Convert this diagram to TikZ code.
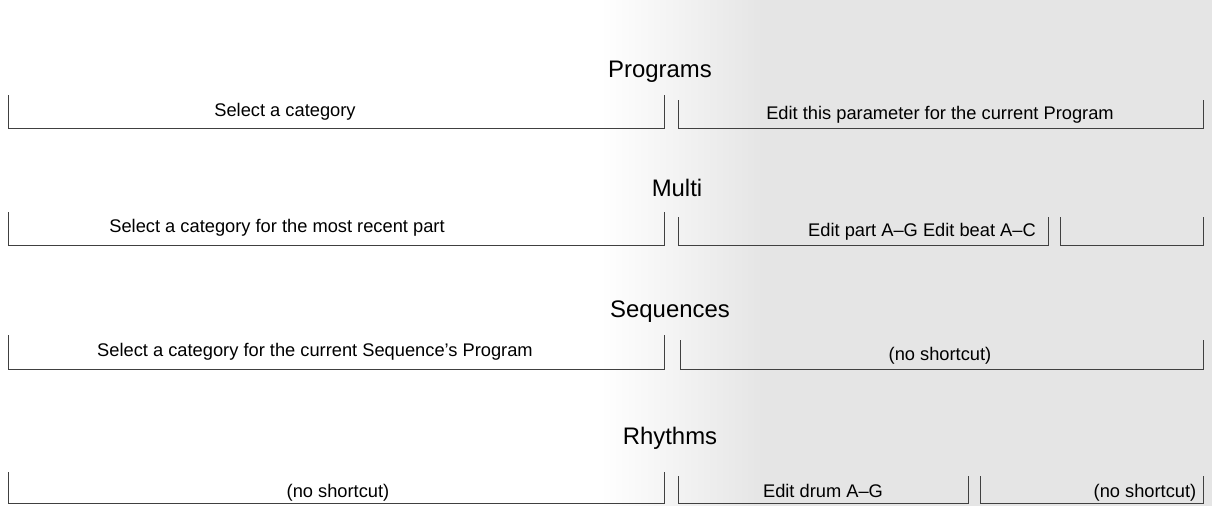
\documentclass[tikz,border=0pt]{standalone}
\usepackage{fontspec}
\setmainfont{Liberation Sans}
\usetikzlibrary{positioning}
\tikzset{
  title/.style={font=\fontsize{17}{19}\selectfont},
  lbl/.style={font=\fontsize{13}{15}\selectfont, anchor=base},
  brk/.style={draw=black!75, line width=0.7pt}
}
\newcommand{\keybracket}[5]{% x1, x2, top, bottom, name
  \draw[brk] (#1,#3) -- (#1,#4) coordinate (#5l) -- (#2,#4) coordinate (#5r) -- (#2,#3);}
\begin{document}
\begin{tikzpicture}[x=0.025cm,y=-0.025cm]
	\useasboundingbox (0,0) rectangle (1212,506);
	\shade[left color=white, right color=black!10] (600,0) rectangle (760,506);
	\fill[black!10] (760,0) rectangle (1212,506);
	% Programs
	\node[title] (progs) at (660,72) {Programs};
	\keybracket{8}{664}{95}{128}{pa}
	\keybracket{678}{1203}{100}{128}{pb}
	\node[lbl] (pat) at (285,116) {Select a category};
	\node[lbl] (pbt) at (940,119) {Edit this parameter for the current Program};
	% Multi
	\node[title] (multi) at (677,188) {Multi};
	\keybracket{8}{664}{212}{245}{ma}
	\keybracket{678}{1048}{217}{245}{mb}
	\keybracket{1060}{1203}{217}{245}{mc}
	\node[lbl] (mat) at (277,232) {Select a category for the most recent part};
	\node[lbl] (mbt) at (922,236) {Edit part A–G Edit beat A–C};
	% Sequences
	\node[title] (seqs) at (670,312) {Sequences};
	\keybracket{8}{664}{335}{369}{sa}
	\keybracket{680}{1203}{340}{369}{sb}
	\node[lbl] (sat) at (315,356) {Select a category for the current Sequence's Program};
	\node[lbl] (sbt) at (940,360) {(no shortcut)};
	% Rhythms
	\node[title] (rhys) at (670,438) {Rhythms};
	\keybracket{8}{664}{472}{503}{ra}
	\keybracket{678}{968}{476}{503}{rb}
	\keybracket{980}{1203}{476}{503}{rc}
	\node[lbl] (rat) at (338,497) {(no shortcut)};
	\node[lbl] (rbt) at (823,497) {Edit drum A–G};
	\node[lbl] (rct) at (1145,497) {(no shortcut)};
\end{tikzpicture}
\end{document}
